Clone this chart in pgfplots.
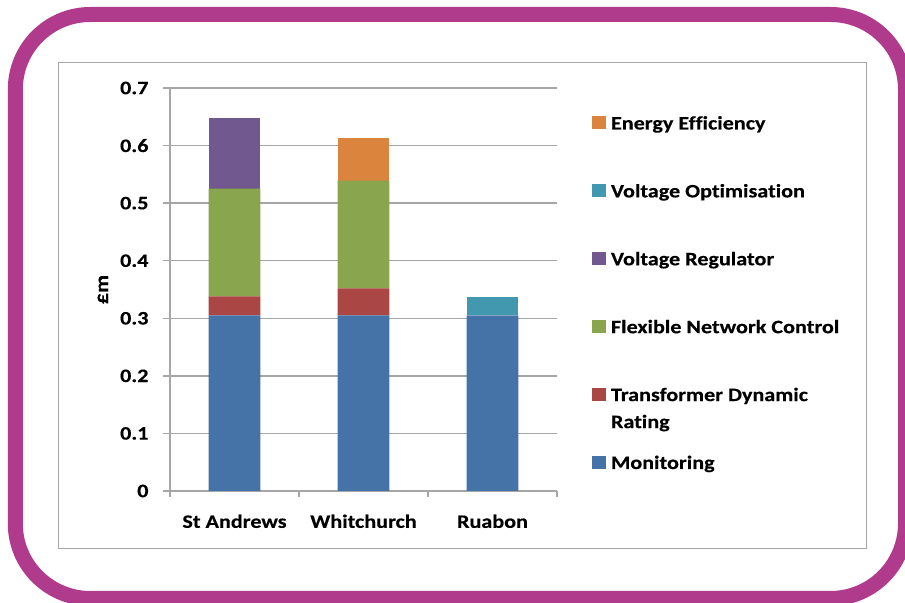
\documentclass[border=0pt]{standalone}
\usepackage{fontspec}
\setmainfont{Carlito}[FakeStretch=1.165, Ligatures=NoCommon, BoldFeatures={FakeBold=0.3}]
\usepackage{pgfplots}
\usepackage{pgfplotstable}
\pgfplotsset{compat=1.18}

\definecolor{framepurple}{HTML}{B03A8C}
\definecolor{gridgrey}{HTML}{A6A6A6}
\definecolor{cMon}{HTML}{4572A7}
\definecolor{cTDR}{HTML}{AA4643}
\definecolor{cFNC}{HTML}{89A54E}
\definecolor{cVR}{HTML}{71588F}
\definecolor{cVO}{HTML}{4198AF}
\definecolor{cEE}{HTML}{DB843D}

\newcommand\lbl{\fontsize{19bp}{23bp}\selectfont\bfseries}

\pgfplotsset{
  sq legend/.style={
    legend image code/.code={\path[##1,draw=none] (0bp,0bp) rectangle (14bp,13bp);}
  }
}

% cost of each intervention per site (GBP million)
\pgfplotstableread{
site mon tdr fnc vr vo ee
0 0.305 0.033 0.187 0.123 0 0
1 0.305 0.047 0.187 0 0 0.075
2 0.305 0 0 0 0.032 0
}\costs

\begin{document}
\begin{tikzpicture}
\useasboundingbox (0bp,0bp) rectangle (905bp,603bp);
\fill[white] (0bp,0bp) rectangle (905bp,603bp);
% rounded frame and chart area
\draw[framepurple, line width=15bp, rounded corners=75bp] (15.3bp,4.5bp) rectangle (905.5bp,588.5bp);
\draw[gridgrey, line width=1.3bp] (58.3bp,54.7bp) rectangle (866.7bp,540.3bp);

\begin{axis}[
  at={(170bp,112bp)}, anchor=south west,
  scale only axis, width=387bp, height=403bp,
  ymin=0, ymax=0.7, xmin=-0.5, xmax=2.5,
  ybar stacked, bar width=0.4,
  axis x line*=bottom, axis y line*=left,
  axis line style={gridgrey, line width=1.3bp},
  xtick={0,1,2}, xticklabels={St Andrews,Whitchurch,Ruabon},
  minor xtick={-0.5,0.5,1.5,2.5},
  major x tick style={draw=none},
  ytick={0,0.1,0.2,0.3,0.4,0.5,0.6,0.7},
  tick align=outside,
  major tick length=7bp, minor tick length=6bp,
  tick style={gridgrey, line width=1.3bp},
  ymajorgrids, major grid style={gridgrey, line width=1.3bp},
  yticklabel style={/pgf/number format/fixed, /pgf/number format/precision=1, xshift=-11bp},
  xticklabel style={yshift=-13bp},
  /pgf/number format/assume math mode=true,
  tick label style={font=\lbl},
  ylabel={£m},
  ylabel style={font=\lbl, at={(axis description cs:-0.1735,0.5)}, anchor=center},
  reverse legend,
  legend style={at={(1.0904,0.9318)}, anchor=north west, draw=none, fill=none,
    inner sep=0pt, outer sep=0pt, row sep=48.9bp, column sep=5bp, font=\lbl,
    cells={anchor=base west},
    nodes={inner sep=0pt, text height=14bp, text depth=5bp}},
]
\addplot[fill=cMon, draw=none, sq legend] table[x=site, y=mon] {\costs};
\addplot[fill=cTDR, draw=none, sq legend] table[x=site, y=tdr] {\costs};
\addplot[fill=cFNC, draw=none, sq legend] table[x=site, y=fnc] {\costs};
\addplot[fill=cVR,  draw=none, sq legend] table[x=site, y=vr]  {\costs};
\addplot[fill=cVO,  draw=none, sq legend] table[x=site, y=vo]  {\costs};
\addplot[fill=cEE,  draw=none, sq legend] table[x=site, y=ee]  {\costs};
\legend{Monitoring,
  {\vtop{\baselineskip=27bp\hbox{Transformer Dynamic}\hbox{Rating}}},
  Flexible Network Control, Voltage Regulator,
  Voltage Optimisation, Energy Efficiency}
\end{axis}
\end{tikzpicture}
\end{document}
